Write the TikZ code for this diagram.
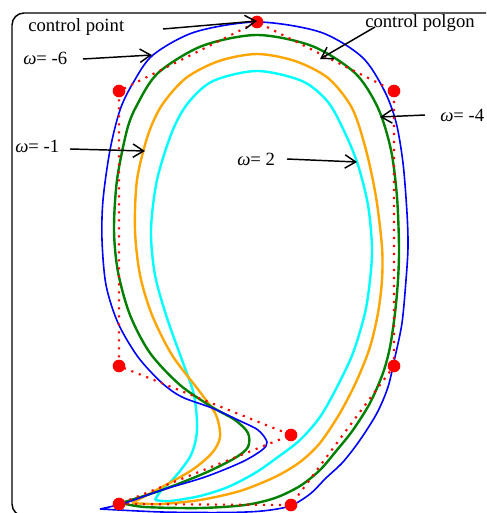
\documentclass[tikz,border=0pt]{standalone}
\usepackage{fontspec}
\setmainfont{Liberation Serif}
\usetikzlibrary{arrows.meta}
\definecolor{cA}{RGB}{0,255,255}
\definecolor{cO}{RGB}{255,165,0}
\definecolor{cG}{RGB}{0,128,0}
\definecolor{cB}{RGB}{0,0,255}
\definecolor{cR}{RGB}{255,0,0}
\begin{document}
\begin{tikzpicture}[x=0.75pt,y=-0.75pt,
  lbl/.style={anchor=base west,inner sep=0pt,font=\fontsize{14}{16}\selectfont},
  ptr/.style={draw=black,line width=1.1pt,-{Straight Barb[length=8pt,width=10pt,line width=1.1pt]}},
  cpt/.style={circle,fill=cR,inner sep=0pt,minimum size=9.5pt},
  poly/.style={cR,line width=1.6pt,dash pattern=on 1.6pt off 4.4pt},
  crv/.style={line width=1.8pt,line join=round},
  frame/.style={draw=black,line width=1.1pt,rounded corners=9pt}]
\useasboundingbox (0,0) rectangle (486,513);
\begin{scope}
\clip (0,0) rectangle (486,513);
\draw[frame] (12,13) rectangle (500,516);
\end{scope}
% curves
\draw[crv,cA] plot[smooth,tension=0.5] coordinates {(155,500) (170,501) (200,496) (228,487) (255,473) (278,457) (300,440) (320,417) (337,387) (353,353) (365,313) (370,280) (372,247) (368,205) (358,165) (345,133) (328,102) (302,81) (257,71) (213,81) (188,103) (172,132) (157,180) (151,230) (155,275) (167,318) (182,360) (194,395) (197,430) (191,455) (175,477) (160,492) (155,500)};
\draw[crv,cO] plot[smooth,tension=0.5] coordinates {(132,503) (160,504) (200,500) (240,491) (275,477) (300,462) (320,443) (340,413) (357,380) (370,347) (378,313) (382,280) (382,247) (376,197) (366,150) (352,108) (328,78) (295,61) (257,54) (219,61) (186,78) (162,105) (148,135) (137,180) (135,230) (140,275) (152,315) (172,355) (200,392) (216,415) (220,437) (212,453) (192,470) (162,487) (132,503)};
\draw[crv,cG] plot[smooth,tension=0.5] coordinates {(121,503) (145,507) (200,508) (245,505) (275,498) (300,486) (320,470) (337,450) (353,430) (370,403) (383,373) (390,347) (395,313) (398,280) (399,247) (397,197) (391,150) (378,108) (355,73) (312,46) (257,35) (202,46) (158,73) (137,105) (127,130) (117,180) (114,230) (118,272) (130,315) (150,353) (180,385) (212,407) (235,420) (248,433) (248,447) (235,458) (205,473) (162,490) (121,503)};
\draw[line width=1.2pt,cB,line join=round] plot[smooth,tension=0.5] coordinates {(100,509) (162,512) (225,512.5) (262,511) (290,506) (310,494) (326,478) (343,462) (360,440) (377,413) (388,387) (395,357) (402,323) (406,280) (408,247) (407,213) (403,163) (396,122) (384,90) (362,57) (320,32) (257,22) (195,32) (153,55) (133,83) (120,110) (110,150) (103,200) (102,240) (106,285) (118,323) (138,357) (162,383) (182,397) (212,408) (238,420) (258,430) (267,442) (262,450) (242,462) (205,477) (162,490) (125,503) (100,509)};
% control points
\node[cpt] (p0) at (119,504) {};
\node[cpt] (p1) at (291,505) {};
\node[cpt] (p2) at (394,366) {};
\node[cpt] (p3) at (394,91) {};
\node[cpt] (p4) at (257,22) {};
\node[cpt] (p5) at (119,91) {};
\node[cpt] (p6) at (119,366) {};
\node[cpt] (p7) at (291,435) {};
\draw[poly] (p0.center) -- (p1.center) -- (p2.center) -- (p3.center) -- (p4.center) -- (p5.center) -- (p6.center) -- (p7.center) -- (p0.center);
% labels
\node[lbl] (lcp) at (28,32) {control point};
\node[lbl] (lpoly) at (365,28) {control polgon};
\node[lbl] (lm6) at (23,65) {{\itshape ω}= -6};
\node[lbl] (lm1) at (15,153) {{\itshape ω}= -1};
\node[lbl] (lp2) at (237,166) {{\itshape ω}= 2};
\node[lbl] (lm4) at (440,122) {{\itshape ω}= -4};
% arrows
\coordinate (acp1) at (163,29);
\coordinate (acp2) at (257,21);
\coordinate (apo1) at (375,27);
\coordinate (apo2) at (320,59);
\coordinate (am61) at (83,59);
\coordinate (am62) at (152,55);
\coordinate (am11) at (70,149);
\coordinate (am12) at (145,151);
\coordinate (ap21) at (287,159);
\coordinate (ap22) at (357,162);
\coordinate (am41) at (425,115);
\coordinate (am42) at (380,117);
\draw[ptr] (acp1) -- (acp2);
\draw[ptr] (apo1) -- (apo2);
\draw[ptr] (am61) -- (am62);
\draw[ptr] (am11) -- (am12);
\draw[ptr] (ap21) -- (ap22);
\draw[ptr] (am41) -- (am42);
\end{tikzpicture}
\end{document}
